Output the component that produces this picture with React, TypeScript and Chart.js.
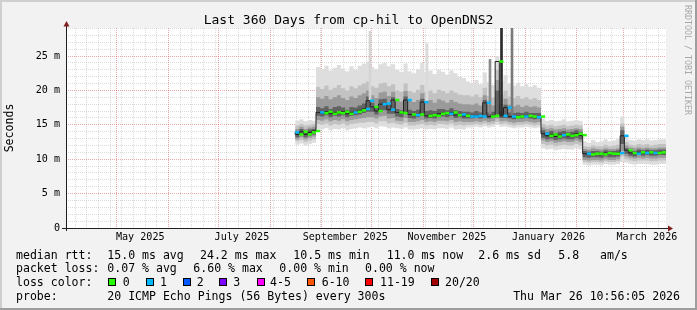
import { useEffect, useRef } from "react";
import { Chart, registerables } from "chart.js";

Chart.register(...registerables);

const FONT = '"DejaVu Sans Mono", monospace';

// ---------- text ----------
const TITLE = "Last 360 Days from cp-hil to OpenDNS2";
const Y_TITLE = "Seconds";
const WATERMARK = "RRDTOOL / TOBI OETIKER";
const rttLabel = "median rtt:";
const rttStats = ["15.0 ms avg", "24.2 ms max", "10.5 ms min", "11.0 ms now", "2.6 ms sd", "5.8   am/s"];
const lossLabel = "packet loss:";
const lossStats = ["0.07 % avg", "6.60 % max", "0.00 % min", "0.00 % now"];
const lossColorLabel = "loss color:";
const lossLegendLabels = ["0", "1", "2", "3", "4-5", "6-10", "11-19", "20/20"];
const lossLegendColors = ["#26ff00", "#00b8ff", "#0059ff", "#7e00ff", "#ff00ff", "#ff5500", "#ff0000", "#a10000"];
const probeLabel = "probe:";
const probeText = "20 ICMP Echo Pings (56 Bytes) every 300s";
const stampText = "Thu Mar 26 10:56:05 2026";

// ---------- time axis ----------
const GRAPH_END_MS = Date.UTC(2026, 2, 26, 10, 56, 5);
const SPAN_DAYS = 360;
const GRAPH_START_MS = GRAPH_END_MS - SPAN_DAYS * 86400000;
const toDay = (iso: string) => (Date.parse(iso + "T00:00:00Z") - GRAPH_START_MS) / 86400000;

const monthGridDates = [
  "2025-04-01", "2025-05-01", "2025-06-01", "2025-07-01", "2025-08-01", "2025-09-01",
  "2025-10-01", "2025-11-01", "2025-12-01", "2026-01-01", "2026-02-01", "2026-03-01",
];
const firstWeekGridDate = "2025-04-06";
const xLabelTexts = ["May 2025", "July 2025", "September 2025", "November 2025", "January 2026", "March 2026"];
const xLabelDates = ["2025-05-15", "2025-07-15", "2025-09-15", "2025-11-15", "2026-01-15", "2026-03-15"];

const Y_MAX = 29.07;
const yLabelValues = [0, 5, 10, 15, 20, 25];

// ---------- data (2.5-day consolidated buckets) ----------
const BUCKET_START_DAY = 137.5;
const BUCKET_DAYS = 2.5;

const medianRtt = [
  13.9, 13.6, 14.0, 13.6, 13.9, 14.1,
  16.8, 16.7, 16.9, 16.6, 16.8, 16.7, 16.9, 16.6, 16.8, 16.9, 17.1, 17.3, 18.5, 17.6, 17.0, 18.0, 18.1, 17.2,
  18.6, 16.8, 16.7, 18.6, 16.5, 16.4, 16.5, 18.3, 16.3, 16.4, 16.3, 16.6, 16.7, 16.6, 16.8, 16.4, 16.5, 16.3,
  16.2, 16.2, 16.3, 16.2, 18.2, 16.2, 16.3, 24.2, 16.3, 17.5, 16.2, 16.1, 16.2, 16.2, 16.3, 16.2, 16.1, 16.2,
  13.7, 13.4, 13.6, 13.3, 13.5, 13.6, 13.4, 13.5, 13.7, 13.5,
  10.8, 10.7, 10.8, 10.8, 10.7, 10.9, 10.8, 10.8, 10.9,
  13.4, 11.3, 10.9, 10.8, 11.0, 10.9, 11.0, 10.9, 10.9, 11.0,
];
const lossClass = [
  1, 0, 0, 0, 0, 0,
  1, 0, 0, 0, 0, 0, 0, 0, 1, 0, 0, 1, 1, 0, 0, 1, 1, 1,
  0, 0, 0, 1, 0, 1, 0, 1, 0, 0, 0, 0, 0, 1, 0, 0, 1, 0,
  1, 1, 1, 1, 1, 0, 0, 0, 1, 1, 1, 0, 0, 1, 0, 0, 1, 0,
  1, 0, 0, 0, 1, 0, 0, 0, 0, 0,
  1, 0, 0, 0, 0, 0, 0, 0, 1,
  1, 0, 0, 1, 0, 1, 0, 1, 0, 0,
];
const smokeOuterHi = [
  15.7, 15.6, 15.8, 15.5, 15.7, 15.6,
  23.4, 23.1, 23.6, 22.9, 23.3, 23.7, 23.2, 22.8, 23.5, 23.0, 23.6, 23.9, 24.2, 23.4, 23.1, 23.8, 24.0, 23.5,
  23.8, 23.0, 22.7, 23.9, 22.8, 22.5, 23.1, 24.0, 22.6, 22.9, 22.4, 23.0, 22.7, 22.3, 22.9, 22.5, 22.0, 21.8,
  21.3, 21.0, 21.5, 20.9, 22.6, 21.2, 20.8, 25.0, 21.4, 22.2, 21.0, 20.7, 21.1, 20.6, 20.9, 20.5, 20.8, 20.4,
  15.9, 15.6, 15.7, 15.5, 15.6, 15.8, 15.5, 15.6, 15.7, 15.6,
  12.6, 12.4, 12.8, 12.5, 12.6, 12.9, 12.6, 12.7, 12.9,
  16.2, 13.4, 12.8, 12.7, 12.9, 12.8, 12.9, 12.7, 12.8, 12.9,
];
const smokeMidHi = [
  15.0, 14.9, 15.1, 14.9, 15.0, 15.1,
  20.5, 20.2, 20.7, 20.1, 20.4, 20.8, 20.3, 20.0, 20.6, 20.3, 20.7, 21.0, 21.3, 20.6, 20.4, 21.0, 21.1, 20.6,
  20.9, 20.0, 19.8, 21.0, 19.9, 19.7, 20.1, 20.8, 19.8, 20.0, 19.6, 20.1, 19.9, 19.6, 20.0, 19.7, 19.4, 19.3,
  19.3, 19.1, 19.4, 19.0, 20.4, 19.2, 19.0, 23.0, 19.3, 20.0, 19.1, 18.9, 19.2, 18.8, 19.0, 18.7, 18.9, 18.6,
  15.1, 14.9, 15.0, 14.8, 14.9, 15.0, 14.8, 14.9, 15.0, 14.9,
  11.9, 11.8, 12.0, 11.9, 11.9, 12.1, 11.9, 12.0, 12.1,
  15.2, 12.5, 12.1, 12.0, 12.2, 12.1, 12.2, 12.0, 12.1, 12.2,
];
const smokeDarkHi = [
  14.6, 14.4, 14.7, 14.4, 14.6, 14.7,
  19.0, 18.8, 19.2, 18.7, 19.0, 19.3, 18.9, 18.6, 19.1, 18.9, 19.3, 19.6, 20.0, 19.3, 18.9, 19.7, 19.8, 19.2,
  19.8, 18.6, 18.4, 19.9, 18.5, 18.3, 18.6, 19.6, 18.4, 18.6, 18.2, 18.7, 18.5, 18.2, 18.6, 18.3, 18.1, 18.0,
  18.0, 17.9, 18.1, 17.8, 19.3, 17.9, 17.8, 21.5, 18.0, 18.8, 17.9, 17.7, 17.9, 17.6, 17.8, 17.6, 17.7, 17.5,
  14.6, 14.4, 14.5, 14.3, 14.4, 14.5, 14.3, 14.4, 14.5, 14.4,
  11.5, 11.4, 11.6, 11.5, 11.4, 11.6, 11.5, 11.5, 11.6,
  14.7, 12.0, 11.7, 11.6, 11.7, 11.6, 11.7, 11.6, 11.6, 11.7,
];
const smokeCoreHi = [
  14.3, 14.0, 14.4, 14.0, 14.3, 14.4,
  17.6, 17.4, 17.7, 17.3, 17.6, 17.7, 17.5, 17.2, 17.6, 17.5, 17.8, 18.1, 19.1, 18.2, 17.7, 18.7, 18.8, 17.9,
  19.0, 17.3, 17.1, 19.1, 17.2, 17.0, 17.2, 18.8, 17.0, 17.1, 17.0, 17.3, 17.3, 17.1, 17.4, 17.1, 17.0, 16.9,
  16.9, 16.8, 17.0, 16.8, 18.6, 16.8, 16.9, 20.0, 16.9, 17.9, 16.8, 16.7, 16.8, 16.7, 16.9, 16.7, 16.7, 16.7,
  14.2, 13.9, 14.1, 13.8, 14.0, 14.1, 13.9, 14.0, 14.2, 14.0,
  11.2, 11.1, 11.2, 11.2, 11.1, 11.3, 11.2, 11.2, 11.3,
  14.2, 11.6, 11.3, 11.2, 11.4, 11.3, 11.4, 11.3, 11.3, 11.4,
];
const smokeCoreLo = [
  13.4, 13.2, 13.5, 13.2, 13.4, 13.6,
  16.3, 16.2, 16.4, 16.1, 16.3, 16.2, 16.4, 16.1, 16.3, 16.4, 16.5, 16.7, 16.9, 16.9, 16.5, 17.0, 17.1, 16.6,
  16.6, 16.2, 16.1, 16.6, 16.0, 15.9, 16.1, 16.3, 15.9, 16.0, 15.9, 16.1, 16.2, 16.1, 16.3, 16.0, 16.1, 15.9,
  15.9, 15.9, 16.0, 15.9, 16.0, 15.9, 16.0, 16.5, 16.0, 16.0, 15.9, 15.8, 15.9, 15.9, 16.0, 15.9, 15.8, 15.9,
  13.1, 12.9, 13.0, 12.8, 12.9, 13.0, 12.9, 12.9, 13.1, 12.9,
  10.3, 10.2, 10.3, 10.3, 10.2, 10.4, 10.3, 10.3, 10.4,
  12.2, 10.8, 10.5, 10.4, 10.6, 10.5, 10.6, 10.5, 10.5, 10.6,
];
const smokeDarkLo = [
  13.1, 12.9, 13.2, 12.9, 13.1, 13.3,
  15.7, 15.6, 15.8, 15.5, 15.7, 15.6, 15.8, 15.5, 15.7, 15.8, 15.9, 16.0, 16.1, 16.1, 15.9, 16.2, 16.3, 15.9,
  16.0, 15.6, 15.5, 16.0, 15.4, 15.4, 15.5, 15.7, 15.4, 15.5, 15.4, 15.6, 15.6, 15.5, 15.7, 15.4, 15.5, 15.4,
  15.4, 15.4, 15.5, 15.4, 15.6, 15.4, 15.5, 15.9, 15.5, 15.6, 15.4, 15.3, 15.4, 15.4, 15.5, 15.4, 15.3, 15.4,
  12.7, 12.5, 12.6, 12.4, 12.5, 12.6, 12.5, 12.5, 12.7, 12.5,
  9.9, 9.8, 9.9, 9.9, 9.8, 10.0, 9.9, 9.9, 10.0,
  11.2, 10.4, 10.2, 10.1, 10.2, 10.1, 10.2, 10.1, 10.1, 10.2,
];
const smokeMidLo = [
  12.7, 12.6, 12.8, 12.5, 12.7, 12.9,
  15.1, 15.0, 15.2, 14.9, 15.1, 15.0, 15.2, 14.9, 15.1, 15.2, 15.3, 15.3, 15.4, 15.4, 15.2, 15.5, 15.5, 15.2,
  15.3, 15.1, 15.0, 15.3, 14.9, 14.9, 15.0, 15.1, 14.9, 15.0, 14.9, 15.1, 15.1, 15.0, 15.2, 14.9, 15.0, 14.9,
  15.0, 15.0, 15.1, 15.0, 15.2, 15.0, 15.1, 15.4, 15.1, 15.2, 15.0, 14.9, 15.0, 15.0, 15.1, 15.0, 14.9, 15.0,
  12.2, 12.0, 12.1, 11.9, 12.0, 12.1, 12.0, 12.0, 12.2, 12.0,
  9.6, 9.5, 9.6, 9.6, 9.5, 9.7, 9.6, 9.6, 9.7,
  10.4, 10.0, 9.8, 9.7, 9.8, 9.8, 9.8, 9.7, 9.7, 9.8,
];
const smokeOuterLo = [
  12.2, 12.1, 12.3, 12.0, 12.2, 12.4,
  14.4, 14.3, 14.5, 14.2, 14.4, 14.3, 14.5, 14.2, 14.4, 14.5, 14.6, 14.5, 14.6, 14.7, 14.5, 14.8, 14.7, 14.5,
  14.6, 14.5, 14.4, 14.6, 14.3, 14.3, 14.4, 14.5, 14.3, 14.4, 14.3, 14.5, 14.5, 14.4, 14.6, 14.3, 14.4, 14.3,
  14.6, 14.6, 14.7, 14.6, 14.8, 14.6, 14.7, 15.0, 14.7, 14.8, 14.6, 14.5, 14.6, 14.6, 14.7, 14.6, 14.5, 14.6,
  11.6, 11.4, 11.5, 11.3, 11.4, 11.5, 11.4, 11.4, 11.6, 11.4,
  9.2, 9.1, 9.2, 9.2, 9.1, 9.3, 9.2, 9.2, 9.3,
  9.6, 9.5, 9.3, 9.2, 9.3, 9.3, 9.3, 9.2, 9.2, 9.3,
];

// narrow outlier columns inside the smoke
const spikeDays = [182.4, 216.6, 254.4, 261.3, 267.6];
const spikeLow = [18.5, 18.5, 16.6, 16.4, 16.5];
const spikeHigh = [28.6, 26.8, 24.5, 29.5, 29.3];
const spikeShade = ["#d4d4d4", "#dadada", "#8a8a8a", "#2b2b2b", "#7a7a7a"];

// ---------- styles ----------
const BACK = "#f2f2f2";
const SHADE_A = "#cfcfcf";
const SHADE_B = "#9e9e9e";
const GRID_MINOR = "rgba(143,143,143,0.32)";
const GRID_MAJOR = "rgba(222,79,79,0.5)";
const AXIS = "#1f1f1f";
const ARROW = "#801f1f";
const SMOKE_COLORS = ["#dedede", "#c2c2c2", "#9a9a9a", "#626262"];

const bucketX = (i: number) => BUCKET_START_DAY + i * BUCKET_DAYS;
const stepSeries = (vals: number[]) => [
  ...vals.map((v, i) => ({ x: bucketX(i), y: v })),
  { x: bucketX(vals.length), y: vals[vals.length - 1] },
];

type XTick = { value: number; kind: string; text: string };
function buildXTicks(): XTick[] {
  const ticks: XTick[] = [];
  const monthDays = monthGridDates.map(toDay);
  for (let d = toDay(firstWeekGridDate); d < SPAN_DAYS; d += 7) {
    if (!monthDays.some((m) => Math.abs(m - d) < 0.01)) ticks.push({ value: d, kind: "minor", text: "" });
  }
  monthDays.forEach((d) => ticks.push({ value: d, kind: "major", text: "" }));
  xLabelDates.forEach((iso, i) => ticks.push({ value: toDay(iso), kind: "label", text: xLabelTexts[i] }));
  ticks.sort((a, b) => a.value - b.value);
  return ticks;
}
function buildYTicks() {
  const t: { value: number }[] = [];
  for (let v = 0; v <= Math.floor(Y_MAX); v++) t.push({ value: v });
  return t;
}

const area = (data: number[], fill: number | false, color: string) => ({
  type: "line" as const,
  data: stepSeries(data),
  stepped: "after" as const,
  borderWidth: 0,
  borderColor: "rgba(0,0,0,0)",
  pointRadius: 0,
  fill,
  backgroundColor: color,
});

const decor = {
  id: "smokeDecor",
  beforeDraw(chart: any) {
    const { ctx, width, height, chartArea } = chart;
    ctx.save();
    ctx.fillStyle = BACK;
    ctx.fillRect(0, 0, width, height);
    ctx.fillStyle = SHADE_A;
    ctx.fillRect(0, 0, width, 2);
    ctx.fillRect(0, 0, 2, height);
    ctx.fillStyle = SHADE_B;
    ctx.fillRect(0, height - 2, width, 2);
    ctx.fillRect(width - 2, 0, 2, height);
    ctx.fillStyle = "#ffffff";
    ctx.fillRect(chartArea.left, chartArea.top, chartArea.right - chartArea.left, chartArea.bottom - chartArea.top);
    ctx.restore();
  },
  afterDraw(chart: any) {
    const { ctx, chartArea } = chart;
    const { left, right, top, bottom } = chartArea;
    ctx.save();
    // axes
    ctx.strokeStyle = AXIS;
    ctx.lineWidth = 1;
    ctx.beginPath();
    ctx.moveTo(left + 0.5, bottom + 3);
    ctx.lineTo(left + 0.5, top - 3);
    ctx.moveTo(left - 4, bottom + 0.5);
    ctx.lineTo(right + 3, bottom + 0.5);
    ctx.stroke();
    ctx.fillStyle = ARROW;
    ctx.beginPath();
    ctx.moveTo(left + 0.5, top - 7);
    ctx.lineTo(left - 2.5, top - 1.5);
    ctx.lineTo(left + 3.5, top - 1.5);
    ctx.closePath();
    ctx.fill();
    ctx.beginPath();
    ctx.moveTo(right + 7, bottom + 0.5);
    ctx.lineTo(right + 2, bottom - 2.5);
    ctx.lineTo(right + 2, bottom + 3.5);
    ctx.closePath();
    ctx.fill();

    // title
    ctx.fillStyle = "#000";
    ctx.textBaseline = "alphabetic";
    ctx.font = `13px ${FONT}`;
    ctx.textAlign = "center";
    ctx.fillText(TITLE, 348.5, 23.5);

    // legend
    ctx.font = `11.56px ${FONT}`;
    ctx.textAlign = "left";
    const rows = [258.5, 272.4, 286.3, 300.2];
    ctx.fillText(rttLabel, 16, rows[0]);
    [107.3, 200, 293.3, 386.7, 478.3, 558.3].forEach((x, i) => ctx.fillText(rttStats[i], x, rows[0]));
    ctx.fillText(lossLabel, 16, rows[1]);
    [107.3, 193.3, 279.3, 365].forEach((x, i) => ctx.fillText(lossStats[i], x, rows[1]));
    ctx.fillText(lossColorLabel, 16, rows[2]);
    const boxX = [108, 146, 183, 219, 257, 307, 365, 431];
    const labX = [122.7, 160, 196.7, 233.3, 270, 321.7, 380, 445];
    lossLegendLabels.forEach((lab, i) => {
      ctx.fillStyle = lossLegendColors[i];
      ctx.fillRect(boxX[i], 278, 8, 8);
      ctx.strokeStyle = "#000";
      ctx.strokeRect(boxX[i] + 0.5, 278.5, 7, 7);
      ctx.fillStyle = "#000";
      ctx.fillText(lab, labX[i], rows[2]);
    });
    ctx.fillText(probeLabel, 16, rows[3]);
    ctx.fillText(probeText, 107.3, rows[3]);
    ctx.textAlign = "right";
    ctx.fillText(stampText, 680, rows[3]);

    // watermark
    ctx.translate(687.5, 5);
    ctx.rotate(Math.PI / 2);
    ctx.font = `8.3px ${FONT}`;
    ctx.fillStyle = "#a8a8a8";
    ctx.textAlign = "left";
    ctx.textBaseline = "middle";
    ctx.fillText(WATERMARK, 0, 0);
    ctx.restore();
  },
};

export default function App() {
  const ref = useRef<HTMLCanvasElement>(null);
  useEffect(() => {
    const xTicks = buildXTicks();
    const yTicks = buildYTicks();
    const chart = new Chart(ref.current as HTMLCanvasElement, {
      type: "line",
      data: {
        datasets: [
          {
            type: "line",
            data: medianRtt.map((v, i) => ({ x: bucketX(i) + BUCKET_DAYS / 2, y: v })),
            showLine: false,
            pointStyle: "line",
            pointRadius: (c: any) => {
              const s = c.chart.scales.x;
              return (s.getPixelForValue(BUCKET_DAYS) - s.getPixelForValue(0)) / 2;
            },
            pointBorderWidth: 2.5,
            pointBorderColor: lossClass.map((l) => lossLegendColors[l]),
            pointBackgroundColor: lossClass.map((l) => lossLegendColors[l]),
          } as any,
          {
            type: "line",
            data: stepSeries(medianRtt),
            stepped: "after",
            borderWidth: 1,
            borderColor: "#202020",
            pointRadius: 0,
            fill: false,
          } as any,
          {
            type: "bar",
            data: spikeDays.map((d, i) => ({ x: d, y: [spikeLow[i], spikeHigh[i]] })),
            backgroundColor: spikeShade,
            barThickness: 2,
            grouped: false,
            borderWidth: 0,
          } as any,
          area(smokeCoreHi, 4, SMOKE_COLORS[3]),
          area(smokeCoreLo, false, SMOKE_COLORS[3]),
          area(smokeDarkHi, 6, SMOKE_COLORS[2]),
          area(smokeDarkLo, false, SMOKE_COLORS[2]),
          area(smokeMidHi, 8, SMOKE_COLORS[1]),
          area(smokeMidLo, false, SMOKE_COLORS[1]),
          area(smokeOuterHi, 10, SMOKE_COLORS[0]),
          area(smokeOuterLo, false, SMOKE_COLORS[0]),
        ] as any,
      },
      options: {
        animation: false,
        responsive: false,
        maintainAspectRatio: false,
        devicePixelRatio: 1,
        events: [],
        layout: { padding: { left: 0, right: 31, top: 28, bottom: 0 } },
        plugins: { legend: { display: false }, tooltip: { enabled: false }, title: { display: false } },
        scales: {
          x: {
            type: "linear",
            min: 0,
            max: SPAN_DAYS,
            offset: false,
            z: 1,
            grid: {
              offset: false,
              drawTicks: false,
              lineWidth: 1,
              color: (c: any) =>
                c.tick && c.tick.kind === "major" ? GRID_MAJOR : c.tick && c.tick.kind === "minor" ? GRID_MINOR : "rgba(0,0,0,0)",
            },
            border: { display: false, dash: [1, 1] },
            ticks: {
              autoSkip: false,
              maxRotation: 0,
              minRotation: 0,
              padding: 3,
              color: "#000",
              font: { family: FONT, size: 10.1 },
              callback: (_v: any, i: number, ticks: any[]) => (ticks[i] && ticks[i].text) || "",
            },
            afterBuildTicks: (s: any) => {
              s.ticks = xTicks.map((t) => ({ ...t }));
            },
            afterFit: (s: any) => {
              s.height = 82;
            },
          },
          y: {
            type: "linear",
            min: 0,
            max: Y_MAX,
            z: 1,
            grid: {
              drawTicks: false,
              lineWidth: 1,
              color: (c: any) => (c.tick && yLabelValues.includes(c.tick.value) ? GRID_MAJOR : GRID_MINOR),
            },
            border: { display: false, dash: [1, 1] },
            ticks: {
              autoSkip: false,
              padding: 6,
              color: "#000",
              font: { family: FONT, size: 10.1 },
              callback: (v: any) => (yLabelValues.includes(v) ? (v === 0 ? "0" : `${v} m`) : ""),
            },
            title: {
              display: true,
              text: Y_TITLE,
              color: "#000",
              font: { family: FONT, size: 11.56 },
              padding: { top: 3.5, bottom: 0 },
            },
            afterBuildTicks: (s: any) => {
              s.ticks = yTicks.map((t) => ({ ...t }));
            },
            afterFit: (s: any) => {
              s.width = 66;
            },
          },
        },
      } as any,
      plugins: [decor],
    });
    return () => chart.destroy();
  }, []);
  return (
    <div style={{ position: "absolute", left: 0, top: 0, width: 697, height: 310 }}>
      <canvas ref={ref} width={697} height={310} style={{ display: "block", width: 697, height: 310 }} />
    </div>
  );
}
